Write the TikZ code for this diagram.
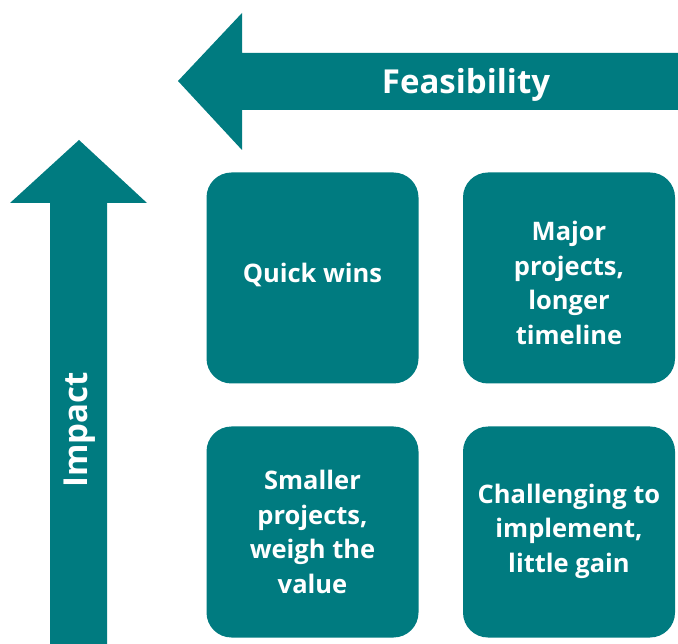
\documentclass[tikz,border=0pt]{standalone}
\usepackage{fontspec}
\setmainfont{Open Sans}
\definecolor{teal1}{RGB}{0,123,128}
\begin{document}
\begin{tikzpicture}[x=1pt,y=-1pt,
  quad/.style={fill=teal1,rounded corners=25pt,minimum width=212pt,minimum height=211pt,
    text=white,align=center,font=\fontsize{25.5}{34.5}\selectfont\bfseries,inner sep=0pt},
  axislabel/.style={text=white,font=\fontsize{33}{38}\selectfont\bfseries,inner sep=0pt}]
\useasboundingbox (0,0) rectangle (678,644);
\fill[teal1] (178,81) -- (242,13) -- (242,53) -- (678,53) -- (678,110) -- (242,110) -- (242,150) -- cycle;
\fill[teal1] (79,140) -- (147,203) -- (107,203) -- (107,644) -- (50,644) -- (50,203) -- (10,203) -- cycle;
\node[axislabel] (feas) at (466,85) {Feasibility};
\node[axislabel,rotate=90] (imp) at (80,430) {Impact};
\node[quad] (q1) at (312.5,278) {};
\node[quad] (q2) at (569,278) {};
\node[quad] (q3) at (312.5,532) {};
\node[quad] (q4) at (569,532) {};
\node[quad,fill=none] (t1) at (312.5,275) {Quick wins};
\node[quad,fill=none] (t2) at (569,283) {Major\\projects,\\longer\\timeline};
\node[quad,fill=none] (t3) at (312.5,532) {Smaller\\projects,\\weigh the\\value};
\node[quad,fill=none] (t4) at (569,531) {Challenging to\\implement,\\little gain};
\end{tikzpicture}
\end{document}
